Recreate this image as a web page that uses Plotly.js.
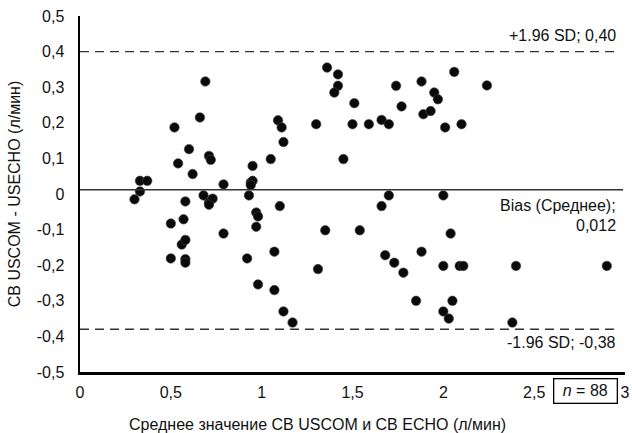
<!DOCTYPE html>
<html>
<head>
<meta charset="utf-8">
<script src="https://cdn.plot.ly/plotly-3.0.1.min.js"></script>
<style>html,body{margin:0;padding:0;background:#fff;}#chart{width:632px;height:433px;}</style>
</head>
<body>
<div id="chart"></div>
<script>
// Mean of CB USCOM and CB ECHO (l/min)
const meanCB = [
  0.30, 0.33, 0.37, 0.33, 0.52, 0.54, 0.60, 0.62, 0.50, 0.57,
  0.58, 0.56, 0.58, 0.50, 0.58, 0.58, 0.66, 0.69, 0.68, 0.71,
  0.72, 0.71, 0.73, 0.79, 0.79, 0.93, 0.94, 0.95, 0.94, 0.95,
  0.97, 0.98, 0.97, 0.92, 0.98, 1.05, 1.09, 1.11, 1.12, 1.10,
  1.07, 1.07, 1.12, 1.17, 1.30, 1.31, 1.35, 1.36, 1.42, 1.42,
  1.40, 1.45, 1.51, 1.50, 1.54, 1.59, 1.66, 1.70, 1.66, 1.70,
  1.68, 1.73, 1.78, 1.74, 1.77, 1.85, 1.88, 1.88, 1.89, 1.93,
  1.95, 1.97, 2.00, 2.00, 2.00, 2.03, 2.05, 2.04, 2.01, 2.06,
  2.10, 2.09, 2.11, 2.40, 2.38, 2.24, 2.90, 0.71
];
// Difference CB USCOM - CB ECHO (l/min)
const diffCB = [
  -0.015, 0.037, 0.037, 0.007, 0.187, 0.086, 0.126, 0.056, -0.083, -0.071,
  -0.021, -0.142, -0.129, -0.181, -0.183, -0.193, 0.215, 0.316, -0.004, 0.107,
  0.096, -0.024, -0.013, 0.027, -0.111, -0.004, 0.032, 0.037, 0.025, 0.079,
  -0.052, -0.063, -0.092, -0.181, -0.254, 0.098, 0.207, 0.187, 0.146, -0.034,
  -0.162, -0.270, -0.330, -0.361, 0.196, -0.211, -0.102, 0.355, 0.336, 0.304,
  0.285, 0.098, 0.255, 0.196, -0.102, 0.196, 0.208, 0.196, -0.034, -0.004,
  -0.172, -0.193, -0.221, 0.304, 0.246, -0.300, -0.162, 0.316, 0.224, 0.233,
  0.285, 0.266, -0.004, -0.202, -0.330, -0.350, -0.300, -0.111, 0.187, 0.343,
  0.196, -0.202, -0.202, -0.202, -0.361, 0.305, -0.202, -0.030
];

const biasValue = 0.012;
const upperLoA = 0.40;
const lowerLoA = -0.38;

const xTickVals = [0, 0.5, 1, 1.5, 2, 2.5, 3];
const xTickText = ['0', '0,5', '1', '1,5', '2', '2,5', '3'];
const yTickVals = [-0.5, -0.4, -0.3, -0.2, -0.1, 0, 0.1, 0.2, 0.3, 0.4, 0.5];
const yTickText = ['-0,5', '-0,4', '-0,3', '-0,2', '-0,1', '0', '0,1', '0,2', '0,3', '0,4', '0,5'];

const xTitle = 'Среднее значение СВ USCOM и СВ ECHO (л/мин)';
const yTitle = 'СВ USCOM - USECHO (л/мин)';
const labelUpper = '+1.96 SD; 0,40';
const labelBias1 = 'Bias (Среднее);';
const labelBias2 = '0,012';
const labelLower = '-1.96 SD; -0,38';
const labelN = '<i>n</i> = 88';

const FONT = 'Liberation Sans, Arial, Helvetica, sans-serif';
const FS = 16;

const trace = {
  x: meanCB, y: diffCB, type: 'scatter', mode: 'markers',
  marker: {color: '#0a0a0a', size: 9.5, line: {color: '#444', width: 0.6}},
  hoverinfo: 'skip', showlegend: false
};

const layout = {
  width: 632, height: 433,
  margin: {l: 80, r: 7, t: 16, b: 61},
  paper_bgcolor: '#fff', plot_bgcolor: '#fff',
  font: {family: FONT, size: FS, color: '#111'},
  showlegend: false,
  xaxis: {
    range: [0, 3], tickvals: xTickVals, ticktext: xTickText,
    showgrid: false, zeroline: false, showline: true, linecolor: '#000', linewidth: 2.5,
    ticks: '', ticklabelstandoff: 4, tickfont: {size: FS},
    automargin: false, fixedrange: true
  },
  yaxis: {
    range: [-0.5, 0.5], tickvals: yTickVals, ticktext: yTickText,
    showgrid: false, zeroline: false, showline: true, linecolor: '#000', linewidth: 2.5,
    ticks: '', ticklabelstandoff: 10, tickfont: {size: FS},
    title: {text: yTitle, font: {size: FS}, standoff: 12},
    automargin: false, fixedrange: true
  },
  shapes: [
    {type: 'line', xref: 'x', yref: 'y', x0: 0, x1: 2.96, y0: upperLoA, y1: upperLoA,
     line: {color: '#333', width: 1.4, dash: '9px,6px'}},
    {type: 'line', xref: 'x', yref: 'y', x0: 0, x1: 2.99, y0: biasValue, y1: biasValue,
     line: {color: '#333', width: 1.4}},
    {type: 'line', xref: 'x', yref: 'y', x0: 0, x1: 2.96, y0: lowerLoA, y1: lowerLoA,
     line: {color: '#333', width: 1.4, dash: '9px,6px'}}
  ],
  annotations: [
    {xref: 'paper', yref: 'paper', x: 0.435, y: 0, xanchor: 'center', yanchor: 'middle', yshift: -52,
     text: xTitle, showarrow: false, font: {size: FS}},
    {xref: 'x', yref: 'y', x: 2.96, y: upperLoA, xanchor: 'right', yanchor: 'bottom', yshift: 6,
     text: labelUpper, showarrow: false, font: {size: FS}},
    {xref: 'x', yref: 'y', x: 2.96, y: biasValue, xanchor: 'right', yanchor: 'top', yshift: -5,
     text: labelBias1, showarrow: false, font: {size: FS}},
    {xref: 'x', yref: 'y', x: 2.96, y: biasValue, xanchor: 'right', yanchor: 'top', yshift: -25,
     text: labelBias2, showarrow: false, font: {size: FS}},
    {xref: 'x', yref: 'y', x: 2.96, y: lowerLoA, xanchor: 'right', yanchor: 'top', yshift: -3,
     text: labelLower, showarrow: false, font: {size: FS}},
    {xref: 'x', yref: 'paper', x: 2.785, y: 0, xanchor: 'center', yanchor: 'top', yshift: -6,
     text: labelN, showarrow: false, font: {size: FS},
     bordercolor: '#000', borderwidth: 1.3, borderpad: 3, bgcolor: 'rgba(0,0,0,0)', width: 56}
  ]
};

Plotly.newPlot('chart', [trace], layout, {displayModeBar: false, staticPlot: true});
</script>
</body>
</html>
